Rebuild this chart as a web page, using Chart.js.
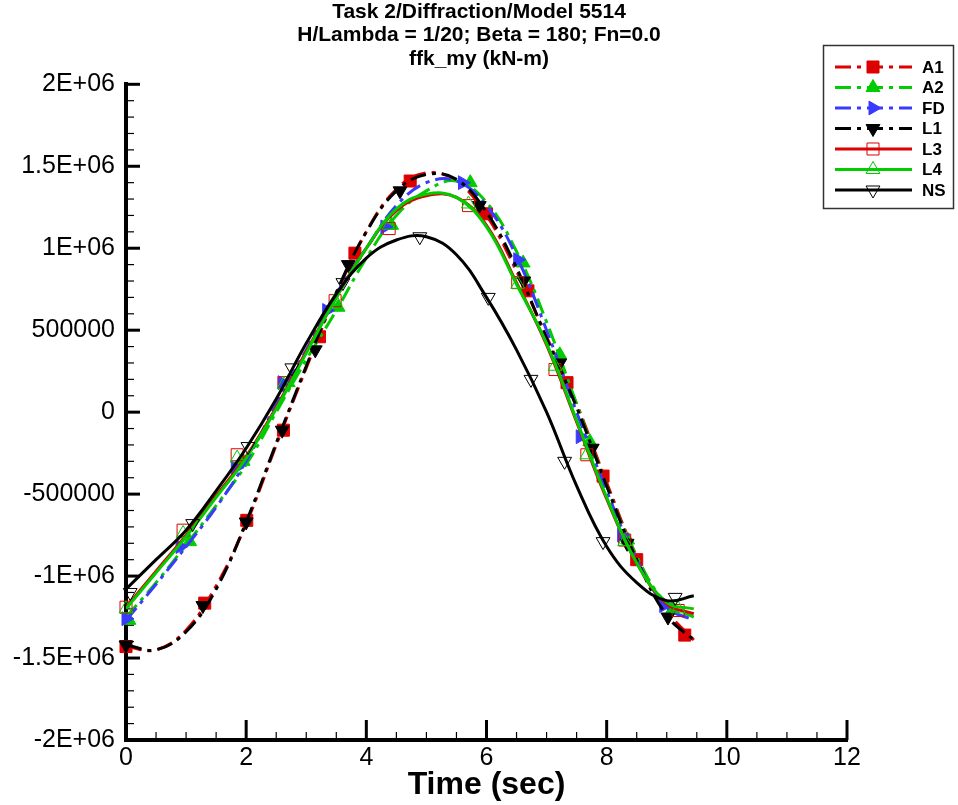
<!DOCTYPE html>
<html>
<head>
<meta charset="utf-8">
<script src="https://cdn.jsdelivr.net/npm/chart.js@4.4.1/dist/chart.umd.min.js"></script>
<style>
  body { margin: 0; background: #fff; }
  canvas { display: block; }
</style>
</head>
<body>
<canvas id="momentChart" width="958" height="805"></canvas>
<script>
// time samples (sec) shared by every curve
const timeSec = [0, 0.5, 1, 1.5, 2, 2.5, 3, 3.5, 4, 4.5, 5, 5.5, 6, 6.5, 7, 7.5, 8, 8.5, 9, 9.45];

// ffk_my curves, in units of 1E+06 kN-m
const a1Vals = [-1.43, -1.45, -1.33, -1.06, -0.68, -0.2, 0.27, 0.72, 1.1, 1.36, 1.46, 1.41, 1.2, 0.86, 0.46, 0.05, -0.43, -0.88, -1.21, -1.39];
const a2Vals = [-1.25, -1.04, -0.81, -0.57, -0.32, 0.0, 0.32, 0.62, 0.94, 1.2, 1.35, 1.41, 1.28, 0.98, 0.55, 0.05, -0.45, -0.88, -1.17, -1.25];
const fdVals = [-1.27, -1.05, -0.82, -0.58, -0.3, 0.05, 0.38, 0.72, 1.0, 1.26, 1.4, 1.41, 1.26, 0.95, 0.5, 0.0, -0.48, -0.9, -1.19, -1.27];
const l1Vals = [-1.42, -1.45, -1.34, -1.08, -0.67, -0.19, 0.28, 0.73, 1.1, 1.35, 1.45, 1.42, 1.22, 0.88, 0.45, 0.03, -0.45, -0.9, -1.24, -1.39];
const l3Vals = [-1.19, -0.97, -0.75, -0.51, -0.27, 0.03, 0.37, 0.7, 1.0, 1.23, 1.32, 1.31, 1.14, 0.79, 0.41, -0.06, -0.53, -0.92, -1.17, -1.23];
const l4Vals = [-1.2, -0.98, -0.76, -0.52, -0.28, 0.02, 0.36, 0.7, 1.0, 1.24, 1.33, 1.31, 1.13, 0.78, 0.42, -0.05, -0.52, -0.92, -1.16, -1.2];
const nsVals = [-1.08, -0.9, -0.72, -0.48, -0.22, 0.08, 0.42, 0.72, 0.94, 1.05, 1.07, 0.96, 0.7, 0.38, 0.0, -0.45, -0.82, -1.04, -1.15, -1.12];

// symbol positions (time sec, value 1E+06 kN-m)
const a1MarkT = [0, 1.31, 2.01, 2.62, 3.22, 3.81, 4.73, 6.0, 6.69, 7.34, 7.94, 8.5, 9.3];
const a1MarkV = [-1.43, -1.165, -0.66, -0.11, 0.46, 0.97, 1.41, 1.21, 0.74, 0.18, -0.39, -0.9, -1.36];
const a2MarkT = [0.05, 1.06, 1.95, 2.7, 3.53, 4.42, 5.73, 6.61, 7.22, 7.72, 8.35, 9.1];
const a2MarkV = [-1.27, -0.79, -0.3, 0.18, 0.64, 1.14, 1.4, 0.91, 0.35, -0.18, -0.78, -1.2];
const fdMarkT = [0, 0.9, 1.82, 2.6, 3.34, 4.31, 5.6, 6.52, 7.56, 8.25, 8.95];
const fdMarkV = [-1.26, -0.82, -0.34, 0.18, 0.62, 1.13, 1.4, 0.93, -0.15, -0.75, -1.18];
const l1MarkT = [0, 1.28, 2.0, 2.6, 3.15, 3.7, 4.56, 5.88, 6.62, 7.22, 7.76, 8.34, 9.02];
const l1MarkV = [-1.42, -1.18, -0.67, -0.11, 0.38, 0.9, 1.35, 1.26, 0.8, 0.3, -0.22, -0.8, -1.25];
const l3MarkT = [0, 0.95, 1.85, 2.63, 3.48, 4.38, 5.7, 6.52, 7.14, 7.67, 8.3, 9.19];
const l3MarkV = [-1.19, -0.72, -0.26, 0.18, 0.68, 1.12, 1.26, 0.79, 0.26, -0.26, -0.78, -1.21];
const l4MarkT = [0, 0.95, 1.85, 2.63, 3.48, 4.38, 5.7, 6.52, 7.14, 7.67, 8.3, 9.19];
const l4MarkV = [-1.2, -0.74, -0.28, 0.17, 0.68, 1.14, 1.27, 0.78, 0.28, -0.26, -0.79, -1.2];
const nsMarkT = [0.07, 1.11, 2.03, 2.76, 3.61, 4.89, 6.03, 6.74, 7.3, 7.94, 9.14];
const nsMarkV = [-1.1, -0.68, -0.21, 0.27, 0.79, 1.07, 0.7, 0.2, -0.3, -0.79, -1.13];

const xTicks = [0, 2, 4, 6, 8, 10, 12];
const yTicks = [-2e6, -1.5e6, -1e6, -5e5, 0, 5e5, 1e6, 1.5e6, 2e6];
const yTickLabels = ['-2E+06', '-1.5E+06', '-1E+06', '-500000', '0', '500000', '1E+06', '1.5E+06', '2E+06'];
const titleLines = ['Task 2/Diffraction/Model 5514', 'H/Lambda = 1/20; Beta = 180; Fn=0.0', 'ffk_my (kN-m)'];

const RED = '#dd0000', GREEN = '#00cc00', BLUE = '#3a3aff', BLACK = '#000000';
const DASHDOT = [16, 6, 4, 6];
const FONT = '"Liberation Sans", Arial, sans-serif';

const series = [
  { name: 'A1', vals: a1Vals, markT: a1MarkT, markV: a1MarkV, color: RED,   dash: DASHDOT, shape: 'rect',     rot: 0,   filled: true },
  { name: 'A2', vals: a2Vals, markT: a2MarkT, markV: a2MarkV, color: GREEN, dash: DASHDOT, shape: 'triangle', rot: 0,   filled: true },
  { name: 'FD', vals: fdVals, markT: fdMarkT, markV: fdMarkV, color: BLUE,  dash: DASHDOT, shape: 'triangle', rot: 90,  filled: true },
  { name: 'L1', vals: l1Vals, markT: l1MarkT, markV: l1MarkV, color: BLACK, dash: DASHDOT, shape: 'triangle', rot: 180, filled: true },
  { name: 'L3', vals: l3Vals, markT: l3MarkT, markV: l3MarkV, color: RED,   dash: [],      shape: 'rect',     rot: 0,   filled: false },
  { name: 'L4', vals: l4Vals, markT: l4MarkT, markV: l4MarkV, color: GREEN, dash: [],      shape: 'triangle', rot: 0,   filled: false },
  { name: 'NS', vals: nsVals, markT: nsMarkT, markV: nsMarkV, color: BLACK, dash: [],      shape: 'triangle', rot: 180, filled: false }
];

function markerRadius(s) {
  return s.shape === 'rect' ? 8.5 : 8;
}

const datasets = [];
series.forEach(function (s, i) {
  datasets.push({
    label: s.name,
    data: timeSec.map((t, k) => ({ x: t, y: s.vals[k] * 1e6 })),
    showLine: true,
    borderColor: s.color,
    borderWidth: 3,
    borderDash: s.dash,
    pointRadius: 0,
    tension: 0.4,
    order: 100 - 2 * i
  });
  datasets.push({
    label: s.name + ' symbols',
    data: s.markT.map((t, k) => ({ x: t, y: s.markV[k] * 1e6 })),
    showLine: false,
    pointStyle: s.shape,
    rotation: s.rot,
    pointRadius: markerRadius(s),
    backgroundColor: s.filled ? s.color : 'rgba(0,0,0,0)',
    borderColor: s.color,
    borderWidth: 1,
    clip: false,
    order: 99 - 2 * i
  });
});

// tick marks point into the plot, majors long and minors short
const innerTicks = {
  id: 'innerTicks',
  beforeDatasetsDraw(chart) {
    const { ctx, chartArea: a, scales: { x, y } } = chart;
    ctx.save();
    ctx.strokeStyle = '#000';
    for (let k = 0; k <= 24; k++) {
      const major = k % 4 === 0;
      const px = x.getPixelForValue(k * 0.5);
      ctx.lineWidth = major ? 3 : 1.2;
      ctx.beginPath();
      ctx.moveTo(px, a.bottom);
      ctx.lineTo(px, a.bottom - (major ? 20 : 8));
      ctx.stroke();
    }
    for (let k = -20; k <= 20; k++) {
      const major = k % 5 === 0;
      const py = y.getPixelForValue(k * 1e5);
      ctx.lineWidth = major ? 3 : 1.2;
      ctx.beginPath();
      ctx.moveTo(a.left, py);
      ctx.lineTo(a.left + (major ? 14 : 8), py);
      ctx.stroke();
    }
    ctx.restore();
  }
};

const legendBox = {
  id: 'legendBox',
  afterDraw(chart) {
    const ctx = chart.ctx;
    ctx.save();
    ctx.fillStyle = '#fff';
    ctx.fillRect(823, 45, 130, 163);
    ctx.strokeStyle = '#333';
    ctx.lineWidth = 1.5;
    ctx.strokeRect(823.5, 45.5, 130, 163);
    series.forEach(function (s, i) {
      const y = 67 + i * 20.5;
      ctx.beginPath();
      ctx.setLineDash(s.dash);
      ctx.strokeStyle = s.color;
      ctx.lineWidth = 3;
      ctx.moveTo(835, y);
      ctx.lineTo(912, y);
      ctx.stroke();
      ctx.setLineDash([]);
      ctx.fillStyle = s.filled ? s.color : 'rgba(0,0,0,0)';
      ctx.strokeStyle = s.color;
      ctx.lineWidth = 1;
      Chart.helpers.drawPoint(ctx, {
        pointStyle: s.shape,
        rotation: s.rot,
        radius: markerRadius(s),
        borderWidth: 1
      }, 873, y);
      ctx.fillStyle = '#000';
      ctx.font = 'bold 17px ' + FONT;
      ctx.textBaseline = 'middle';
      ctx.fillText(s.name, 922, y + 1);
    });
    ctx.restore();
  }
};

const ctx = document.getElementById('momentChart').getContext('2d');
new Chart(ctx, {
  type: 'scatter',
  data: { datasets: datasets },
  options: {
    responsive: false,
    animation: false,
    events: [],
    layout: { padding: 0 },
    plugins: {
      legend: { display: false },
      tooltip: { enabled: false },
      title: {
        display: true,
        text: titleLines,
        color: '#000',
        font: { family: FONT, size: 21, weight: 'bold', lineHeight: 1.1 },
        padding: { top: 1, bottom: 14 }
      }
    },
    scales: {
      x: {
        type: 'linear',
        min: 0,
        max: 12,
        afterBuildTicks: function (scale) {
          scale.ticks = xTicks.map(v => ({ value: v }));
        },
        afterFit: function (scale) { scale.height = 65; },
        grid: { display: false, drawTicks: false },
        border: { display: true, color: '#000', width: 4 },
        ticks: {
          color: '#000',
          padding: 3,
          maxRotation: 0,
          font: { family: FONT, size: 25 },
          callback: function (v) { return String(v); }
        },
        title: {
          display: true,
          text: 'Time (sec)',
          color: '#000',
          font: { family: FONT, size: 32, weight: 'bold' },
          padding: { top: 0, bottom: 1 }
        }
      },
      y: {
        type: 'linear',
        position: 'left',
        min: -2e6,
        max: 2e6,
        afterBuildTicks: function (scale) {
          scale.ticks = yTicks.map(v => ({ value: v }));
        },
        afterFit: function (scale) { scale.width = 126; },
        grid: { display: false, drawTicks: false },
        border: { display: true, color: '#000', width: 4 },
        ticks: {
          color: '#000',
          padding: 11,
          font: { family: FONT, size: 25 },
          callback: function (v, i) { return yTickLabels[i]; }
        }
      },
      yRight: {
        type: 'linear',
        position: 'right',
        display: true,
        afterFit: function (scale) { scale.width = 111; },
        grid: { display: false, drawTicks: false },
        border: { display: false },
        ticks: { display: false }
      }
    }
  },
  plugins: [innerTicks, legendBox]
});
</script>
</body>
</html>
